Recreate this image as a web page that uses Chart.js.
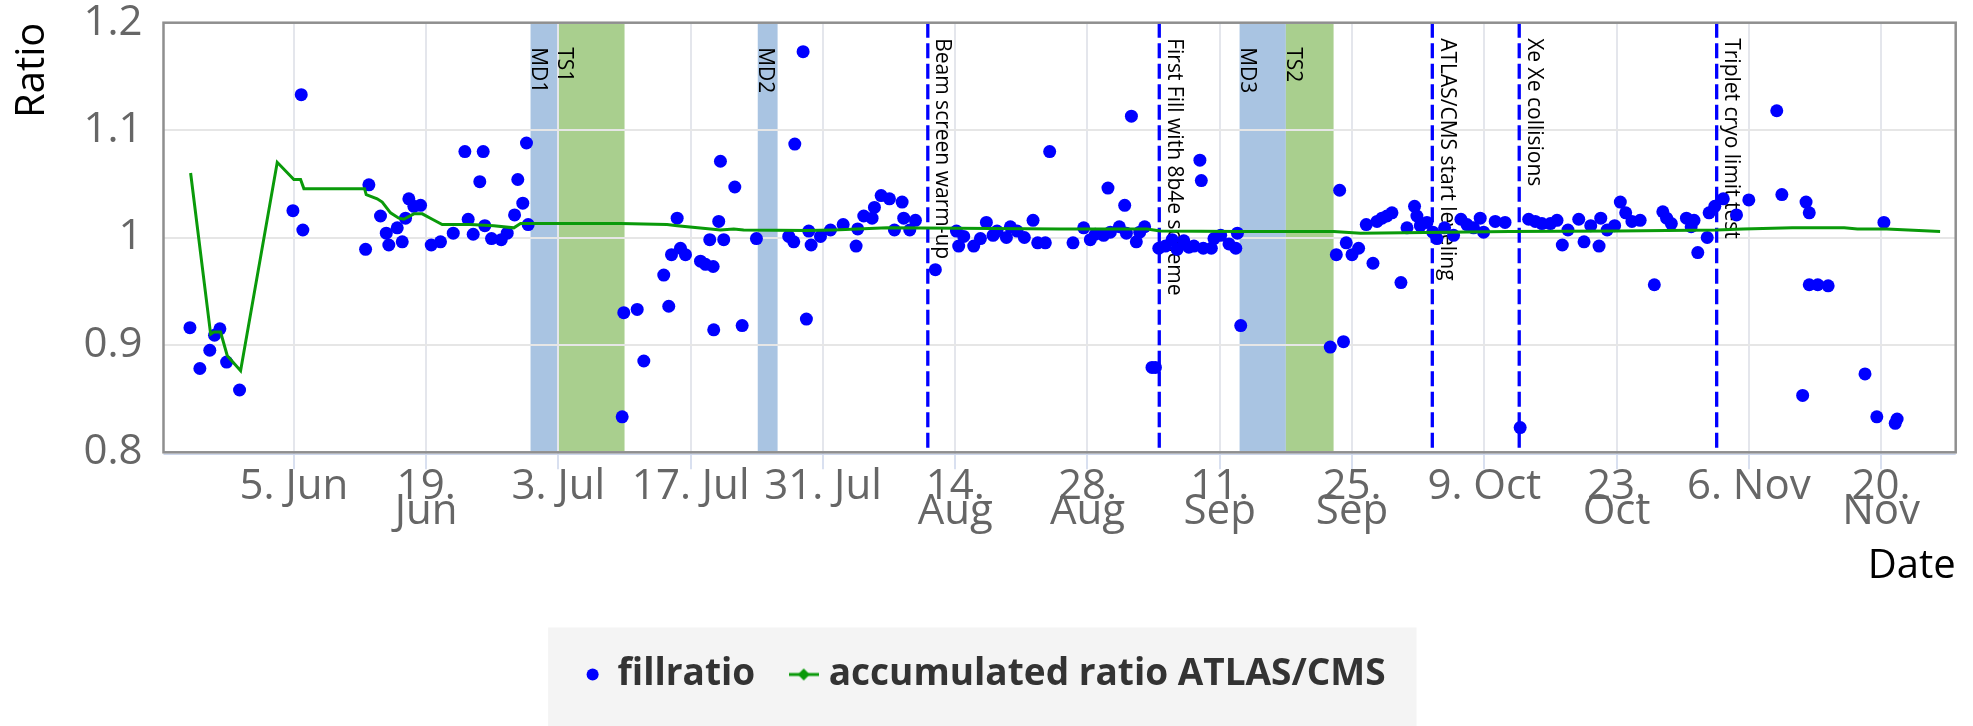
<!DOCTYPE html>
<html>
<head>
<meta charset="utf-8">
<script src="https://cdn.jsdelivr.net/npm/chart.js@4.4.1/dist/chart.umd.min.js"></script>
<style>
html,body{margin:0;padding:0;background:#ffffff;}
canvas{display:block;}
</style>
</head>
<body>
<canvas id="c" width="1973" height="726"></canvas>
<script>
// x values: days since 1 June 2017 00:00
const fillDay = [
 -7.0,-5.95,-4.9,-4.4,-3.83,-3.12,-1.75,3.9,4.78,4.95,
 11.59,11.94,13.17,13.78,14.05,14.94,15.47,15.82,16.17,16.7,
 17.41,18.54,19.52,20.87,22.1,22.45,22.98,23.68,24.04,24.21,
 24.92,25.95,26.58,27.36,27.7,28.23,28.62,28.8,38.75,38.92,
 40.34,41.04,43.15,43.68,43.97,44.57,44.92,45.45,47.04,47.57,
 48.02,48.38,48.44,48.97,49.15,49.5,50.67,51.45,52.96,56.38,
 56.91,57.02,57.9,58.25,58.5,58.75,59.74,60.8,62.14,63.51,
 63.68,64.32,65.2,65.45,66.16,67.04,67.57,68.38,68.55,69.19,
 69.79,71.9,74.13,74.37,74.9,75.96,76.67,77.3,78.01,78.43,
 79.42,79.84,80.55,81.32,82.24,82.73,83.54,84.0,86.47,87.6,
 88.3,88.83,89.71,90.17,90.42,91.37,91.94,92.12,92.65,93.17,
 93.53,94.05,94.83,95.19,95.55,96.25,96.96,97.49,98.2,98.73,
 99.27,99.9,100.05,100.26,101.11,101.39,102.1,102.98,103.7,103.87,
 104.22,113.7,114.34,114.69,115.1,115.39,116.0,116.7,117.51,118.22,
 118.65,119.17,119.7,120.23,121.18,121.82,122.62,122.87,123.23,123.93,
 124.56,124.99,125.8,126.75,127.53,128.17,128.87,129.57,129.93,131.16,
 132.2,133.8,134.7,135.4,136.1,137.0,137.7,138.26,138.86,140.0,
 140.56,141.27,142.15,142.33,143.01,143.8,144.4,144.97,145.63,146.5,
 148.0,148.9,149.3,149.8,151.4,151.9,152.2,152.6,153.6,153.8,
 154.4,155.3,156.7,158.0,160.96,161.5,163.7,164.06,164.4,164.4,
 165.3,166.4,170.3,171.55,172.3,173.5,173.7
];
const fillRatio = [
 0.916,0.878,0.895,0.909,0.915,0.884,0.858,1.025,1.133,1.007,
 0.989,1.049,1.020,1.004,0.993,1.009,0.996,1.018,1.036,1.029,
 1.030,0.993,0.996,1.004,1.080,1.017,1.003,1.052,1.080,1.011,
 0.999,0.998,1.004,1.021,1.054,1.032,1.088,1.012,0.833,0.930,
 0.933,0.885,0.965,0.936,0.984,1.018,0.990,0.984,0.978,0.975,
 0.998,0.973,0.914,1.015,1.071,0.998,1.047,0.918,0.999,1.001,
 0.996,1.087,1.173,0.924,1.006,0.993,1.001,1.007,1.012,0.992,
 1.008,1.020,1.018,1.028,1.039,1.036,1.007,1.033,1.018,1.007,
 1.016,0.970,1.006,0.992,1.001,0.992,0.999,1.014,1.002,1.006,
 1.000,1.010,1.006,1.000,1.016,0.995,0.995,1.080,0.995,1.009,
 0.998,1.003,1.002,1.046,1.005,1.010,1.030,1.004,1.113,0.996,
 1.005,1.010,0.879,0.879,0.990,0.992,0.998,0.989,0.997,0.991,
 0.992,1.072,1.053,0.990,0.990,0.999,1.002,0.994,0.990,1.004,
 0.918,0.898,0.984,1.044,0.903,0.995,0.984,0.990,1.012,0.976,
 1.015,1.018,1.020,1.023,0.958,1.009,1.029,1.020,1.011,1.014,
 1.005,0.999,1.009,1.002,1.017,1.012,1.009,1.018,1.005,1.015,
 1.014,0.823,1.017,1.015,1.013,1.013,1.016,0.993,1.007,1.017,
 0.996,1.011,0.992,1.018,1.007,1.011,1.033,1.023,1.015,1.016,
 0.956,1.024,1.018,1.013,1.018,1.010,1.016,0.986,1.000,1.023,
 1.029,1.036,1.021,1.035,1.118,1.040,0.853,1.033,1.023,0.956,
 0.956,0.955,0.873,0.833,1.014,0.827,0.831
];
const accDay = [
 -6.93,-4.81,-4.47,-3.76,-3.05,-1.64,2.24,4.0,4.71,5.06,
 11.48,11.66,12.82,13.35,14.23,15.11,15.64,16.7,17.59,18.65,
 19.7,22.7,25.16,27.28,27.99,38.57,43.5,44.57,48.1,49.15,
 50.56,51.6,58.3,61.1,66.8,85.1,94.3,95.7,104.2,114.05,
 116.9,132.7,144.0,154.6,157.4,162.6,168.1,169.5,172.6,178.25
];
const accRatio = [
 1.060,0.910,0.912,0.912,0.890,0.876,1.070,1.054,1.054,1.0455,
 1.0455,1.040,1.036,1.033,1.023,1.018,1.017,1.022,1.022,1.017,
 1.012,1.012,1.011,1.009,1.013,1.013,1.012,1.011,1.008,1.007,
 1.008,1.007,1.0065,1.007,1.009,1.008,1.008,1.006,1.0056,1.0056,
 1.004,1.0056,1.006,1.007,1.008,1.009,1.009,1.008,1.008,1.0056
];
const xTickDays = [4,18,32,46,60,74,88,102,116,130,144,158,172];
const xTickLabels = [["5. Jun"],["19.","Jun"],["3. Jul"],["17. Jul"],["31. Jul"],["14.","Aug"],["28.","Aug"],["11.","Sep"],["25.","Sep"],["9. Oct"],["23.","Oct"],["6. Nov"],["20.","Nov"]];
const yTicks = [0.8,0.9,1.0,1.1,1.2];
const yTickLabels = ["0.8","0.9","1","1.1","1.2"];
const bandNames = ["MD1","TS1","MD2","MD3","TS2"];
const bandFrom = [29.05,31.87,53.1,104.1,109.0];
const bandTo = [31.87,39.0,55.2,109.0,114.05];
const eventNames = ["Beam screen warm-up","First Fill with 8b4e scheme","ATLAS/CMS start leveling","Xe Xe collisions","Triplet cryo limit test"];
const eventDay = [71.1,95.6,124.5,133.7,154.6];
const seriesNames = ["fillratio","accumulated ratio ATLAS/CMS"];

const FONT = "'Open Sans', 'DejaVu Sans', sans-serif";
Chart.defaults.font.family = FONT;

// legend icon for the accumulated line: short line with diamond marker
const accIcon = document.createElement('canvas');
accIcon.width = 30; accIcon.height = 14;
(function(){
  const g = accIcon.getContext('2d');
  g.strokeStyle = '#0a9a0a'; g.lineWidth = 3;
  g.beginPath(); g.moveTo(0,7); g.lineTo(30,7); g.stroke();
  g.fillStyle = '#0a9a0a';
  g.beginPath(); g.moveTo(15,1); g.lineTo(21,7); g.lineTo(15,13); g.lineTo(9,7); g.closePath(); g.fill();
})();

const LEGEND_SHIFT = 8;

const decor = {
  id: 'decor',
  beforeDraw(chart) {
    const {ctx, chartArea: a, scales: {x}} = chart;
    ctx.save();
    const lg = chart.legend;
    if (lg && lg.legendHitBoxes && lg.legendHitBoxes.length) {
      if (!lg._shifted) {
        lg.left += LEGEND_SHIFT; lg.right += LEGEND_SHIFT;
        lg.legendHitBoxes.forEach(h => { h.left += LEGEND_SHIFT; });
        lg._shifted = true;
      }
      const hb = lg.legendHitBoxes;
      const first = hb[0], last = hb[hb.length - 1];
      const cy = first.top + first.height / 2;
      const left = first.left - 38, right = last.left + last.width + 31;
      ctx.fillStyle = '#f4f4f4';
      ctx.fillRect(left, cy - 47, right - left, chart.height - (cy - 47));
    }
    bandNames.forEach((n, i) => {
      const x0 = x.getPixelForValue(bandFrom[i]);
      const x1 = x.getPixelForValue(bandTo[i]);
      ctx.fillStyle = n.indexOf('MD') === 0 ? '#a9c4e2' : '#a9cf8e';
      ctx.fillRect(x0, a.top, x1 - x0, a.bottom - a.top);
    });
    ctx.restore();
  },
  beforeDatasetsDraw(chart) {
    const {ctx, chartArea: a, scales: {x}} = chart;
    ctx.save();
    ctx.font = '21px ' + FONT;
    ctx.fillStyle = '#000000';
    ctx.textAlign = 'left';
    ctx.textBaseline = 'alphabetic';
    bandNames.forEach((n, i) => {
      const x0 = x.getPixelForValue(bandFrom[i]);
      ctx.save();
      ctx.translate(x0 + 1, a.top + 24.5);
      ctx.rotate(Math.PI / 2);
      ctx.fillText(n, 0, 0);
      ctx.restore();
    });
    eventNames.forEach((t, i) => {
      const px = x.getPixelForValue(eventDay[i]);
      ctx.save();
      ctx.strokeStyle = '#0000ff';
      ctx.lineWidth = 3.3;
      ctx.setLineDash([15, 5.5]);
      ctx.beginPath(); ctx.moveTo(px, a.top); ctx.lineTo(px, a.bottom); ctx.stroke();
      ctx.restore();
      ctx.save();
      ctx.translate(px + 8.5, a.top + 15.5);
      ctx.rotate(Math.PI / 2);
      ctx.fillText(t, 0, 0);
      ctx.restore();
    });
    ctx.restore();
  },
  afterDatasetsDraw(chart) {
    const {ctx, chartArea: a} = chart;
    ctx.save();
    ctx.strokeStyle = '#ccd6eb';
    ctx.lineWidth = 1.5;
    ctx.beginPath(); ctx.moveTo(a.left, a.bottom + 2); ctx.lineTo(a.right, a.bottom + 2); ctx.stroke();
    ctx.strokeStyle = '#8f8f8f';
    ctx.lineWidth = 2.5;
    ctx.strokeRect(a.left, a.top, a.right - a.left, a.bottom - a.top);
    ctx.restore();
  }
};

new Chart(document.getElementById('c'), {
  type: 'scatter',
  data: {
    datasets: [
      {
        label: seriesNames[0],
        data: fillDay.map((d, i) => ({x: d, y: fillRatio[i]})),
        backgroundColor: '#0000ff',
        borderColor: '#0000ff',
        borderWidth: 0,
        pointRadius: 6.5,
        pointHoverRadius: 6.5,
        order: 1
      },
      {
        label: seriesNames[1],
        data: accDay.map((d, i) => ({x: d, y: accRatio[i]})),
        showLine: true,
        borderColor: '#0a9a0a',
        backgroundColor: '#0a9a0a',
        borderWidth: 3,
        pointRadius: 0,
        pointHoverRadius: 0,
        tension: 0,
        fill: false,
        order: 0
      }
    ]
  },
  options: {
    responsive: false,
    animation: false,
    devicePixelRatio: 1,
    events: [],
    layout: { padding: { top: 22.7, right: 17.3, bottom: 23, left: 0 } },
    scales: {
      x: {
        type: 'linear',
        min: -9.8,
        max: 179.9,
        afterBuildTicks(s) { s.ticks = xTickDays.map(v => ({value: v})); },
        afterFit(s) { s.height = 161.7; },
        grid: { color: '#e4e6ec', lineWidth: 2, drawTicks: true, tickLength: 17, tickColor: '#ccd6eb', tickWidth: 1.5 },
        border: { display: false },
        ticks: {
          autoSkip: false, maxRotation: 0, minRotation: 0, padding: 5,
          color: '#666666',
          font: { family: FONT, size: 42, lineHeight: '25px' },
          callback: (v, i) => xTickLabels[i]
        },
        title: {
          display: true, text: 'Date', align: 'end', color: '#000000',
          font: { family: FONT, size: 40, lineHeight: 1.2 },
          padding: { top: 0, bottom: 23 }
        }
      },
      y: {
        type: 'linear',
        min: 0.8,
        max: 1.2,
        afterBuildTicks(s) { s.ticks = yTicks.map(v => ({value: v})); },
        afterFit(s) { s.width = 163.5; },
        grid: { color: '#e6e6e6', lineWidth: 2, drawTicks: true, tickLength: 21, tickColor: 'rgba(0,0,0,0)' },
        border: { display: false },
        ticks: {
          padding: 0, color: '#666666',
          font: { family: FONT, size: 42, lineHeight: 1.0 },
          callback: (v, i) => yTickLabels[i]
        },
        title: {
          display: true, text: 'Ratio', align: 'end', color: '#000000',
          font: { family: FONT, size: 40, lineHeight: 1.2 },
          padding: { top: 9, bottom: 0 }
        }
      }
    },
    plugins: {
      tooltip: { enabled: false },
      legend: {
        display: true,
        position: 'bottom',
        labels: {
          usePointStyle: true,
          boxWidth: 13,
          boxHeight: 8.5,
          padding: 42,
          color: '#333333',
          font: { family: FONT, size: 37, weight: 'bold' },
          sort: (a, b) => a.datasetIndex - b.datasetIndex,
          generateLabels(chart) {
            const items = Chart.defaults.plugins.legend.labels.generateLabels(chart);
            items.forEach(it => {
              if (it.datasetIndex === 0) {
                it.pointStyle = 'circle'; it.fillStyle = '#0000ff'; it.strokeStyle = '#0000ff'; it.lineWidth = 0;
              } else {
                it.pointStyle = accIcon; it.lineWidth = 0;
              }
            });
            return items;
          }
        }
      }
    }
  },
  plugins: [decor]
});
</script>
</body>
</html>
